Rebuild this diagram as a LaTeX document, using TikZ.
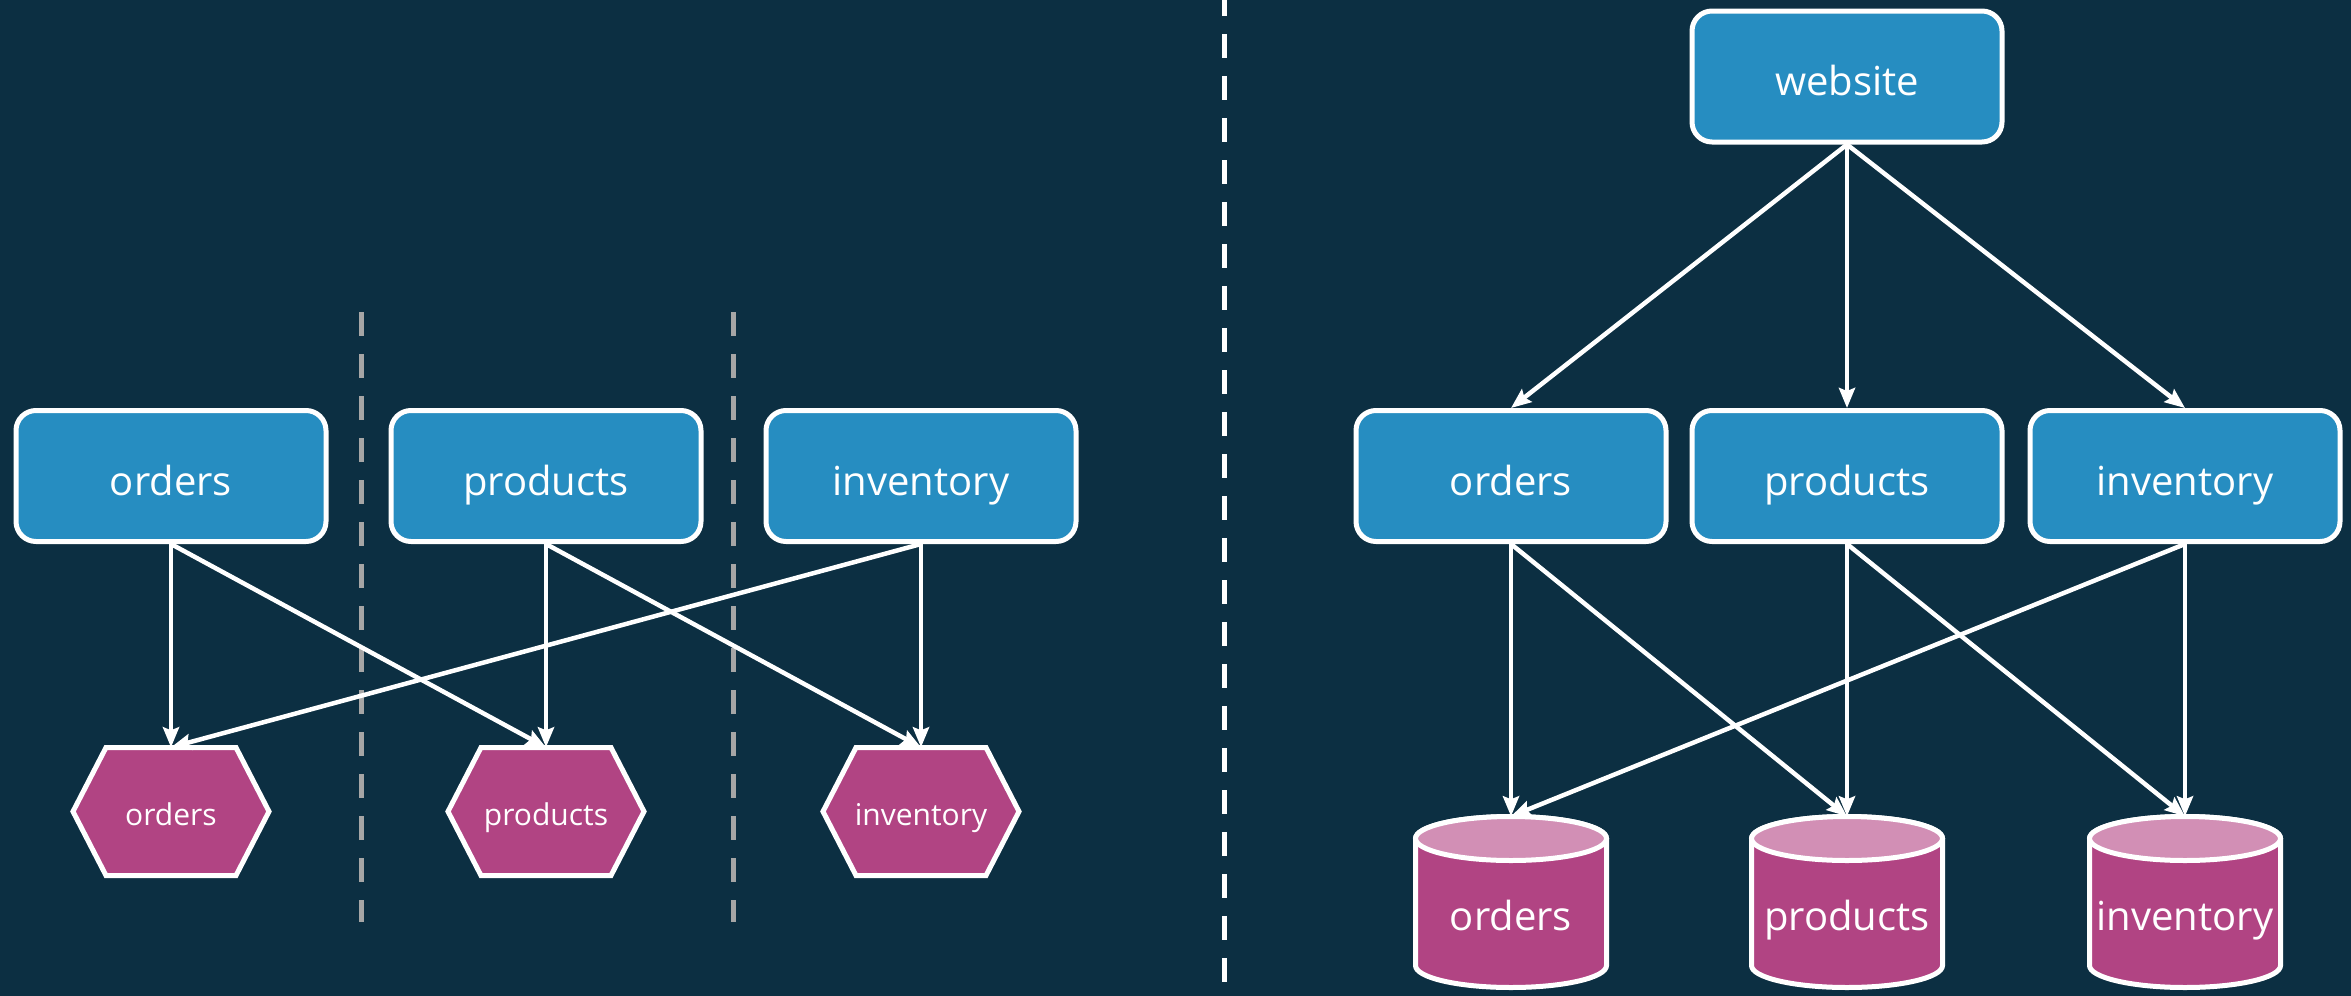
\documentclass[tikz,border=0pt]{standalone}
\usepackage{fontspec}
\setmainfont{Open Sans}
\usetikzlibrary{arrows.meta}
\definecolor{bg}{HTML}{0C2F42}
\definecolor{svc}{HTML}{268DC1}
\definecolor{db}{HTML}{B14483}
\definecolor{dbtop}{HTML}{D28FB5}
\definecolor{sepgrey}{HTML}{A6A6A6}
\begin{document}
\begin{tikzpicture}[x=1pt,y=-1pt,
  svcbox/.style={draw=white, line width=5pt, fill=svc, rounded corners=20pt,
    minimum width=310pt, minimum height=131pt, inner sep=0pt, text=white,
    font=\fontsize{40}{48}\selectfont, text height=38pt, text depth=0pt},
  hexnode/.style={minimum width=196pt, minimum height=128pt, inner sep=0pt, text=white,
    font=\fontsize{30}{36}\selectfont, text height=27pt, text depth=0pt},
  cylnode/.style={minimum width=191pt, minimum height=171pt, inner sep=0pt, text=white,
    font=\fontsize{40}{48}\selectfont, text height=56pt, text depth=0pt},
  conn/.style={draw=white, line width=4.5pt, -{Stealth[length=20pt,width=16pt,inset=3pt]}},
  greysep/.style={draw=sepgrey, line width=5pt, dash pattern=on 24pt off 18pt},
  whitesep/.style={draw=white, line width=5pt, dash pattern=on 24pt off 18pt},
  hexa/.pic={\filldraw[draw=white, fill=db, line width=5pt, line join=miter]
      (-98,0) -- (-65,-64) -- (65,-64) -- (98,0) -- (65,64) -- (-65,64) -- cycle;},
  cyl/.pic={
    \filldraw[draw=white, fill=db, line width=5pt]
      (-95.5,-63.5) -- (-95.5,63.5)
      arc[start angle=180, end angle=360, x radius=95.5pt, y radius=22pt]
      -- (95.5,-63.5)
      arc[start angle=0, end angle=180, x radius=95.5pt, y radius=22pt] -- cycle;
    \filldraw[draw=white, fill=dbtop, line width=5pt]
      (0,-63.5) ellipse[x radius=95.5pt, y radius=22pt];}
]
\fill[bg] (0,0) rectangle (2351,996);
\useasboundingbox (0,0) rectangle (2351,996);

% separators
\draw[greysep] (361.5,312) -- (361.5,922);
\draw[greysep] (733.5,312) -- (733.5,922);
\draw[whitesep] (1224,-8) -- (1224,1000);

% left panel
\node[svcbox] (lo) at (171,476) {orders};
\node[svcbox] (lp) at (546,476) {products};
\node[svcbox] (li) at (921,476) {inventory};
\pic at (171,811.5) {hexa};
\pic at (546,811.5) {hexa};
\pic at (921,811.5) {hexa};
\node[hexnode] (ho) at (171,811.5) {orders};
\node[hexnode] (hp) at (546,811.5) {products};
\node[hexnode] (hi) at (921,811.5) {inventory};

\draw[conn] (lo.south) -- (ho.north);
\draw[conn] (lo.south) -- (hp.north);
\draw[conn] (lp.south) -- (hp.north);
\draw[conn] (lp.south) -- (hi.north);
\draw[conn] (li.south) -- (hi.north);
\draw[conn] (li.south) -- (ho.north);

% right panel
\node[svcbox] (web) at (1847,76.5) {website};
\node[svcbox] (ro) at (1511,476) {orders};
\node[svcbox] (rp) at (1847,476) {products};
\node[svcbox] (ri) at (2185,476) {inventory};
\pic at (1511,902) {cyl};
\pic at (1847,902) {cyl};
\pic at (2185,902) {cyl};
\node[cylnode] (co) at (1511,902) {orders};
\node[cylnode] (cp) at (1847,902) {products};
\node[cylnode] (ci) at (2185,902) {inventory};

\draw[conn] (web.south) -- (ro.north);
\draw[conn] (web.south) -- (rp.north);
\draw[conn] (web.south) -- (ri.north);
\draw[conn] (ro.south) -- (co.north);
\draw[conn] (ro.south) -- (cp.north);
\draw[conn] (rp.south) -- (cp.north);
\draw[conn] (rp.south) -- (ci.north);
\draw[conn] (ri.south) -- (ci.north);
\draw[conn] (ri.south) -- (co.north);
\end{tikzpicture}
\end{document}
